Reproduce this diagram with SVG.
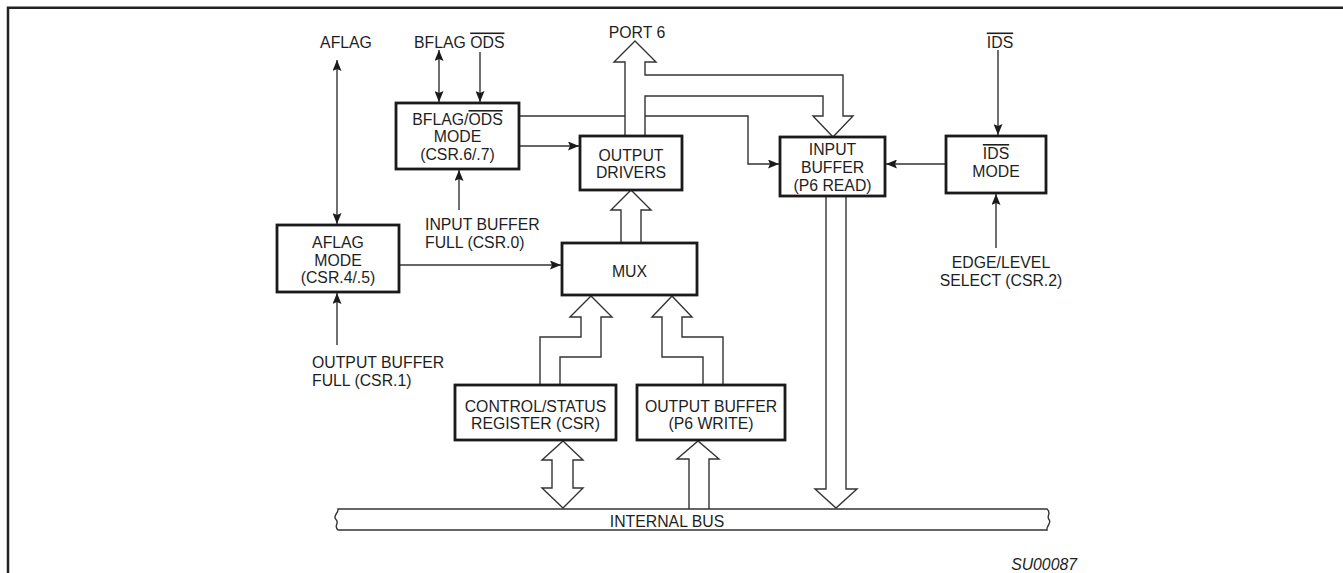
<svg xmlns="http://www.w3.org/2000/svg" width="1343" height="573" viewBox="0 0 1343 573">
<style>
text{font-family:"Liberation Sans",Arial,sans-serif;font-size:15.8px;fill:#1e1e1e}
.c{text-anchor:middle}
.box{fill:#fff;stroke:#1a1a1a;stroke-width:2.8}
.ln{fill:none;stroke:#333;stroke-width:1.4}
.wide{fill:#fff;stroke:#333;stroke-width:1.4;stroke-linejoin:miter}
.ov{text-decoration:overline}
</style>
<defs>
<marker id="ah" viewBox="0 0 11 9" refX="11" refY="4.5" markerWidth="11" markerHeight="9" markerUnits="userSpaceOnUse" orient="auto-start-reverse">
<path d="M0,0 L11,4.5 L0,9 L2,4.5 z" fill="#1a1a1a"/>
</marker>
</defs>
<rect width="1343" height="573" fill="#fff"/>
<path id="frame" d="M8,573 V7.8 H1343" fill="none" stroke="#222" stroke-width="2.5"/>

<g id="connectors">
<line class="ln" x1="337" y1="60" x2="337" y2="224" marker-start="url(#ah)" marker-end="url(#ah)"/>
<line class="ln" x1="439" y1="50" x2="439" y2="102" marker-start="url(#ah)" marker-end="url(#ah)"/>
<line class="ln" x1="480" y1="52" x2="480" y2="102" marker-end="url(#ah)"/>
<line class="ln" x1="459" y1="210" x2="459" y2="170" marker-end="url(#ah)"/>
<line class="ln" x1="337" y1="345" x2="337" y2="293" marker-end="url(#ah)"/>
<line class="ln" x1="519" y1="146" x2="579" y2="146" marker-end="url(#ah)"/>
<line class="ln" x1="399" y1="265" x2="561" y2="265" marker-end="url(#ah)"/>
<path class="ln" d="M519,116 H748 V164 H779" marker-end="url(#ah)"/>
<line class="ln" x1="998" y1="50" x2="998" y2="135" marker-end="url(#ah)"/>
<line class="ln" x1="946" y1="164" x2="886" y2="164" marker-end="url(#ah)"/>
<line class="ln" x1="996" y1="248" x2="996" y2="194" marker-end="url(#ah)"/>
<path class="wide" d="M625,136 V62 H614 L635,41 L656,62 H645 V75 H843 V116 H853 L833,137 L813,116 H823 V96 H645 V136"/>
<path class="wide" d="M621,243 V210 H611 L631,190 L651,210 H641 V243"/>
<path class="wide" d="M540,385 V337 H581 V317 H570 L591,296 L612,317 H601 V357 H560 V385"/>
<path class="wide" d="M703,385 V357 H662 V317 H652 L672,296 L692,317 H682 V337 H723 V385"/>
<path class="wide" d="M563,441 L583,460 H573 V488 H583 L563,508 L542,488 H552 V460 H542 z"/>
<path class="wide" d="M689,509 V459 H677 L698,441 L719,459 H709 V509"/>
<path class="wide" d="M826,196 V489 H815 L836,508 L857,489 H846 V196"/>
</g>

<g id="bus">
<path d="M338,509 H1047 C1052,513 1046,516 1049,519.5 C1052,523 1046,526 1047,530 H338 C333,526 340,523 336,519.5 C332,516 339,513 338,509 z" fill="#fff" stroke="#333" stroke-width="1.4"/>
<text class="c" x="667" y="527">INTERNAL BUS</text>
</g>

<g id="bflag-mode">
<rect class="box" x="396" y="103" width="123" height="66"/>
<text class="c" x="457.5" y="125">BFLAG/<tspan class="ov">ODS</tspan></text>
<text class="c" x="457.5" y="142">MODE</text>
<text class="c" x="457.5" y="160">(CSR.6/.7)</text>
</g>
<g id="output-drivers">
<rect class="box" x="580" y="136" width="102" height="54"/>
<text class="c" x="631" y="161">OUTPUT</text>
<text class="c" x="631" y="178">DRIVERS</text>
</g>
<g id="input-buffer">
<rect class="box" x="780" y="137" width="105" height="59"/>
<text class="c" x="832.5" y="155">INPUT</text>
<text class="c" x="832.5" y="173">BUFFER</text>
<text class="c" x="832.5" y="191">(P6 READ)</text>
</g>
<g id="ids-mode">
<rect class="box" x="946" y="136" width="100" height="57"/>
<text class="c" x="996" y="159"><tspan class="ov">IDS</tspan></text>
<text class="c" x="996" y="177">MODE</text>
</g>
<g id="aflag-mode">
<rect class="box" x="277" y="225" width="122" height="67"/>
<text class="c" x="338" y="248">AFLAG</text>
<text class="c" x="338" y="266">MODE</text>
<text class="c" x="338" y="283">(CSR.4/.5)</text>
</g>
<g id="mux">
<rect class="box" x="562" y="243" width="135" height="52"/>
<text class="c" x="629.5" y="277">MUX</text>
</g>
<g id="csr">
<rect class="box" x="455" y="385" width="161" height="55"/>
<text class="c" x="535.5" y="412">CONTROL/STATUS</text>
<text class="c" x="535.5" y="429">REGISTER (CSR)</text>
</g>
<g id="output-buffer">
<rect class="box" x="637" y="385" width="148" height="55"/>
<text class="c" x="711" y="412">OUTPUT BUFFER</text>
<text class="c" x="711" y="429">(P6 WRITE)</text>
</g>

<g id="labels">
<text class="c" x="346" y="47.5">AFLAG</text>
<text x="414" y="47.5">BFLAG <tspan class="ov">ODS</tspan></text>
<text class="c" x="637" y="38">PORT 6</text>
<text class="c" x="1000" y="47.5"><tspan class="ov">IDS</tspan></text>
<text x="425" y="230">INPUT BUFFER</text>
<text x="425" y="248">FULL (CSR.0)</text>
<text x="312" y="368">OUTPUT BUFFER</text>
<text x="312" y="386">FULL (CSR.1)</text>
<text class="c" x="1001" y="268">EDGE/LEVEL</text>
<text class="c" x="1001" y="286">SELECT (CSR.2)</text>
<text x="1077" y="570" text-anchor="end" font-style="italic">SU00087</text>
</g>
</svg>
